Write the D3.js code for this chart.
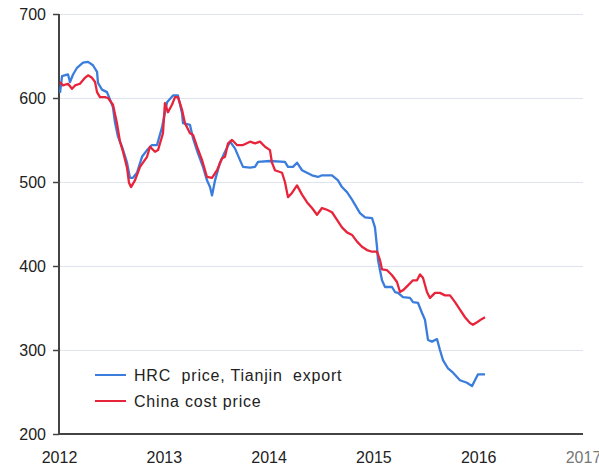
<!DOCTYPE html>
<html>
<head>
<meta charset="utf-8">
<script src="https://cdn.jsdelivr.net/npm/d3@7"></script>
<style>
  body { margin: 0; background: #fff; }
  text { font-family: "Liberation Sans", Arial, sans-serif; }
</style>
</head>
<body>
<svg id="chart"></svg>
<script>
const yearTicks = [2012, 2013, 2014, 2015, 2016, 2017];
const priceTicks = [200, 300, 400, 500, 600, 700];

// decimal year, price (USD/t)
const hrcDates = [2012.010, 2012.029, 2012.086, 2012.105, 2012.134, 2012.172, 2012.229, 2012.277, 2012.324, 2012.363,
  2012.372, 2012.410, 2012.458, 2012.487, 2012.515, 2012.534, 2012.563, 2012.601, 2012.649, 2012.677,
  2012.706, 2012.744, 2012.792, 2012.840, 2012.887, 2012.935, 2012.983, 2013.031, 2013.088, 2013.135,
  2013.174, 2013.183, 2013.250, 2013.279, 2013.326, 2013.374, 2013.412, 2013.441, 2013.460, 2013.489,
  2013.536, 2013.584, 2013.632, 2013.679, 2013.727, 2013.756, 2013.823, 2013.870, 2013.899, 2014.013,
  2014.156, 2014.185, 2014.233, 2014.271, 2014.319, 2014.366, 2014.414, 2014.471, 2014.510, 2014.605,
  2014.662, 2014.700, 2014.748, 2014.796, 2014.824, 2014.872, 2014.920, 2014.987, 2015.015, 2015.034,
  2015.044, 2015.063, 2015.082, 2015.111, 2015.178, 2015.206, 2015.235, 2015.282, 2015.349, 2015.378,
  2015.426, 2015.464, 2015.492, 2015.521, 2015.559, 2015.607, 2015.635, 2015.664, 2015.712, 2015.760,
  2015.826, 2015.893, 2015.941, 2015.969, 2015.998, 2016.065];
const hrcValues = [606, 626, 628, 619, 628, 636, 642, 643, 639, 631,
  618, 610, 607, 598, 589, 571, 554, 542, 523, 505,
  505, 511, 530, 538, 544, 544, 565, 595, 603, 603,
  582, 570, 568, 552, 534, 518, 502, 494, 484, 502,
  523, 536, 548, 540, 526, 518, 517, 518, 524, 525,
  524, 518, 518, 523, 514, 511, 508, 506, 508, 508,
  502, 494, 488, 479, 473, 463, 458, 457, 446, 423,
  407, 395, 383, 375, 375, 369, 368, 363, 362, 357,
  356, 344, 336, 312, 310, 313, 300, 288, 278, 273,
  264, 261, 257, 264, 271, 271];

const costDates = [2012.010, 2012.038, 2012.086, 2012.124, 2012.153, 2012.200, 2012.248, 2012.277, 2012.315, 2012.344,
  2012.363, 2012.391, 2012.439, 2012.468, 2012.515, 2012.553, 2012.582, 2012.611, 2012.649, 2012.668,
  2012.687, 2012.725, 2012.773, 2012.840, 2012.868, 2012.916, 2012.945, 2012.992, 2013.011, 2013.040,
  2013.078, 2013.107, 2013.135, 2013.174, 2013.202, 2013.250, 2013.279, 2013.317, 2013.365, 2013.412,
  2013.460, 2013.508, 2013.555, 2013.584, 2013.613, 2013.651, 2013.698, 2013.756, 2013.823, 2013.870,
  2013.918, 2013.966, 2014.013, 2014.032, 2014.061, 2014.128, 2014.156, 2014.185, 2014.223, 2014.271,
  2014.319, 2014.366, 2014.414, 2014.462, 2014.510, 2014.557, 2014.605, 2014.653, 2014.700, 2014.748,
  2014.796, 2014.844, 2014.891, 2014.939, 2014.987, 2015.034, 2015.063, 2015.082, 2015.130, 2015.178,
  2015.225, 2015.254, 2015.282, 2015.330, 2015.378, 2015.416, 2015.445, 2015.473, 2015.511, 2015.540,
  2015.588, 2015.635, 2015.683, 2015.731, 2015.779, 2015.826, 2015.874, 2015.922, 2015.950, 2015.989,
  2016.036, 2016.065];
const costValues = [619, 615, 617, 611, 615, 617, 624, 627, 624, 619,
  607, 601, 601, 600, 592, 570, 548, 536, 517, 499,
  494, 502, 518, 530, 542, 536, 538, 558, 594, 583,
  592, 601, 601, 586, 570, 558, 556, 542, 526, 506,
  505, 514, 528, 530, 546, 550, 544, 544, 548, 546,
  548, 542, 538, 523, 514, 511, 500, 482, 487, 496,
  485, 476, 469, 461, 469, 467, 464, 455, 446, 440,
  437, 429, 423, 419, 417, 417, 407, 396, 395, 389,
  381, 369, 371, 377, 383, 383, 390, 386, 369, 362,
  368, 368, 365, 365, 357, 348, 339, 332, 330, 333,
  337, 339];

const seriesNames = ["HRC  price, Tianjin  export", "China cost price"];
const seriesColors = ["#3b7ddd", "#e8243a"];

const margin = {top: 14, right: 16, bottom: 35, left: 59},
  W = 599, H = 469,
  width = W - margin.left - margin.right,
  height = H - margin.top - margin.bottom;

const svg = d3.select("#chart")
  .attr("width", W)
  .attr("height", H)
  .append("g")
    .attr("transform", "translate(" + margin.left + "," + margin.top + ")");

const x = d3.scaleLinear().domain([2012, 2017]).range([0, width]);
const y = d3.scaleLinear().domain([200, 700]).range([height, 0]);

// gridlines
svg.append("g")
  .selectAll("line")
  .data(priceTicks.filter(d => d > 200))
  .join("line")
    .attr("x1", 0)
    .attr("x2", width)
    .attr("y1", d => y(d) + 0.5)
    .attr("y2", d => y(d) + 0.5)
    .attr("stroke", "#dfe3ee")
    .attr("stroke-width", 1);

const yAxis = d3.axisLeft(y).tickValues(priceTicks).tickSize(6).tickPadding(7);
const yg = svg.append("g").call(yAxis);
yg.select(".domain").remove();
yg.selectAll(".tick line").attr("stroke", "#444").attr("stroke-width", 1.5);
yg.selectAll(".tick text")
  .attr("font-size", 16)
  .attr("fill", "#222")
  .style("font-family", "Liberation Sans, Arial, sans-serif");

const xAxis = d3.axisBottom(x).tickValues(yearTicks).tickSize(0).tickPadding(18).tickFormat(d3.format("d"));
const xg = svg.append("g").attr("transform", "translate(0," + height + ")").call(xAxis);
xg.select(".domain").remove();
xg.selectAll(".tick text")
  .attr("font-size", 16)
  .attr("fill", d => d === 2017 ? "#777" : "#222")
  .style("font-family", "Liberation Sans, Arial, sans-serif");

// axis lines
svg.append("line")
  .attr("x1", 0).attr("x2", 0)
  .attr("y1", 0).attr("y2", height)
  .attr("stroke", "#444").attr("stroke-width", 2);
svg.append("line")
  .attr("x1", 0).attr("x2", width)
  .attr("y1", height).attr("y2", height)
  .attr("stroke", "#444").attr("stroke-width", 2);

const line = d3.line()
  .x(d => x(d[0]))
  .y(d => y(d[1]));

const series = [
  d3.zip(hrcDates, hrcValues),
  d3.zip(costDates, costValues)
];

svg.append("g")
  .selectAll("path")
  .data(series)
  .join("path")
    .attr("fill", "none")
    .attr("stroke", (d, i) => seriesColors[i])
    .attr("stroke-width", 2.3)
    .attr("stroke-linejoin", "round")
    .attr("d", line);

// legend
const legend = svg.selectAll(".legend")
  .data(seriesNames)
  .join("g")
    .attr("class", "legend")
    .attr("transform", (d, i) => "translate(36," + (361 + 26 * i) + ")");

legend.append("line")
  .attr("x1", 0).attr("x2", 31)
  .attr("y1", 0).attr("y2", 0)
  .attr("stroke", (d, i) => seriesColors[i])
  .attr("stroke-width", 2);

legend.append("text")
  .attr("x", 39)
  .attr("dy", "0.35em")
  .attr("font-size", 16)
  .attr("letter-spacing", "0.8px")
  .attr("fill", "#222")
  .style("white-space", "pre")
  .text(d => d);
</script>
</body>
</html>
